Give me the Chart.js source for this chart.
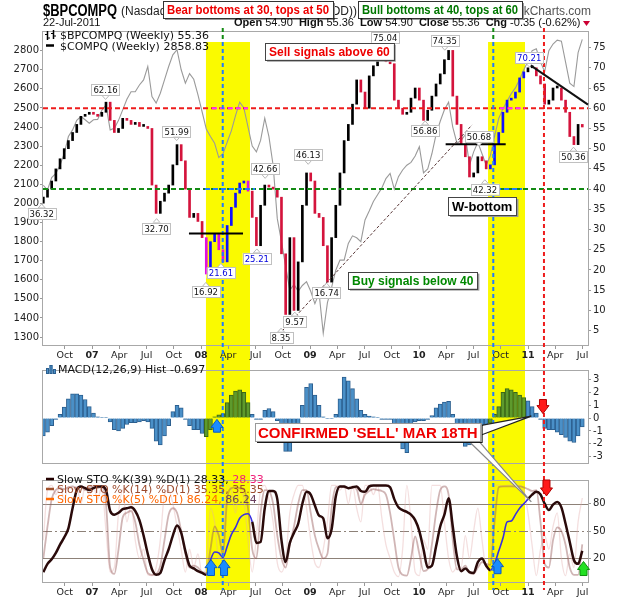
<!DOCTYPE html>
<html lang="en">
<head>
<meta charset="UTF-8">
<title>$BPCOMPQ Weekly</title>
<script src="https://cdn.jsdelivr.net/npm/chart.js"></script>
<style>
  body { margin: 0; background: #fff; }
  #wrap { position: relative; width: 620px; height: 600px; }
  #wrap canvas { position: absolute; left: 0; }
</style>
</head>
<body>
<div id="wrap">
  <canvas id="mainChart" width="620" height="362" style="top:0"></canvas>
  <canvas id="macdChart" width="620" height="110" style="top:362px"></canvas>
  <canvas id="stoChart" width="620" height="128" style="top:472px"></canvas>
  <canvas id="overlay" width="620" height="600" style="top:0"></canvas>
</div>
<script>
// two-week samples starting 21-Jul-2006, x is in decimal years
const T0 = 2006.553;
const STEP = 14 / 365.25;
const X_MIN = 2006.55, X_MAX = 2011.55;

const X_TICKS = [2006.75, 2007, 2007.25, 2007.5, 2007.75, 2008, 2008.25, 2008.5, 2008.75, 2009,
                 2009.25, 2009.5, 2009.75, 2010, 2010.25, 2010.5, 2010.75, 2011, 2011.25, 2011.5];
const X_TICK_LABELS = ['Oct', '07', 'Apr', 'Jul', 'Oct', '08', 'Apr', 'Jul', 'Oct', '09',
                       'Apr', 'Jul', 'Oct', '10', 'Apr', 'Jul', 'Oct', '11', 'Apr', 'Jul'];
const LEFT_TICKS = [1300, 1400, 1500, 1600, 1700, 1800, 1900, 2000, 2100, 2200, 2300, 2400, 2500, 2600, 2700, 2800];
const RIGHT_TICKS = [5, 10, 15, 20, 25, 30, 35, 40, 45, 50, 55, 60, 65, 70, 75];
const MACD_TICKS = [-3, -2, -1, 0, 1, 2, 3];
const STO_TICKS = [20, 50, 80];

// $BPCOMPQ bullish percent, close of each sample
const BP_OPEN = 36.5;
const BP_CLOSE = [
  38, 40, 42, 45, 47.5, 50, 52, 54, 56, 58,
  58.5, 59, 58.5, 58, 59, 61.5, 57, 54, 55, 57.5,
  57, 56, 56.5, 55.5, 55.5, 55, 41, 34, 37, 39,
  41, 46, 51, 47, 40, 33, 34, 32, 28, 19,
  27, 29, 25, 22, 31, 35.5, 39, 41.5, 42, 39.5,
  33, 26, 36, 41, 40.5, 40, 38, 24, 9, 28,
  10, 22, 36, 44, 42, 34, 33, 26, 17, 28,
  36, 44, 52, 56, 61, 67, 64, 60, 68, 70.5,
  72.5, 73.5, 71.5, 71, 62, 60, 58.5, 59, 62.5, 65,
  62, 57, 59.5, 63, 66, 68.5, 72, 74.3, 63, 56,
  51, 48, 43, 44, 48, 47, 45, 46, 51, 54,
  59, 62, 62.5, 64, 67.5, 69, 70, 70, 68, 66,
  61, 62, 65, 65, 62, 59, 53, 51, 56, 55.36
];

// $COMPQ close
const COMPQ_CLOSE = [
  2095, 2070, 2135, 2157, 2200, 2262, 2350, 2385, 2435, 2455,
  2438, 2420, 2438, 2440, 2488, 2515, 2385, 2393, 2435, 2490,
  2545, 2585, 2585, 2620, 2647, 2717, 2560, 2525, 2577, 2647,
  2717, 2778, 2805, 2700, 2630, 2680, 2650, 2570, 2480, 2390,
  2350, 2315, 2240, 2260, 2320, 2380, 2460, 2530, 2500, 2400,
  2300, 2270, 2330, 2446, 2350, 2200, 1920, 1800, 1670, 1545,
  1575, 1540, 1570, 1590, 1540, 1475, 1530, 1320, 1480, 1560,
  1650, 1703, 1703, 1790, 1830, 1820, 1800, 1913, 1960, 2010,
  2045, 2080, 2130, 2157, 2075, 2140, 2175, 2200, 2215, 2248,
  2297, 2160, 2180, 2260, 2360, 2430, 2490, 2530, 2400, 2315,
  2330, 2360, 2200, 2270, 2320, 2260, 2200, 2250, 2350, 2445,
  2495, 2535, 2575, 2605, 2650, 2700, 2745, 2800, 2810, 2740,
  2690, 2800, 2835, 2855, 2850, 2740, 2630, 2612, 2790, 2858.83
];

// MACD(12,26,9) histogram
const MACD_HIST = [
  -1.4, -1.1, -0.6, -0.1, 0.3, 0.85, 1.5, 1.9, 1.9, 1.8,
  1.45, 0.9, 0.4, 0.1, 0.05, 0.05, -0.3, -0.9, -1.0, -0.8,
  -0.5, -0.35, -0.35, -0.3, -0.2, -0.3, -0.8, -1.8, -2.1, -1.4,
  -0.6, 0.5, 1.0, 0.8, -0.1, -0.6, -0.9, -0.9, -1.2, -1.45,
  -0.9, 0.1, 0.25, 0.35, 1.2, 1.8, 2.1, 2.2, 2.0, 1.2,
  0.3, -0.1, -0.1, 0.6, 0.75, 0.5, -0.2, -1.2, -2.6, -2.6,
  -1.6, -0.5, 1.0, 2.4, 2.7, 1.8, 1.0, 0.1, -0.05, -0.05,
  0.3, 1.5, 3.2, 2.9, 2.3, 1.5, 0.6, 0.3, 0.15, 0.1,
  0.05, -0.1, -0.1, -0.1, -0.5, -1.8, -2.4, -2.7, -1.3, -0.3,
  -0.2, -0.2, -0.1, 0.2, 0.8, 1.1, 1.25, 1.3, 0.3, -0.7,
  -1.6, -2.2, -2.1, -1.4, -1.2, -0.8, -0.5, -0.4, 0.3, 0.9,
  2.0, 2.3, 2.2, 2.0, 1.8, 1.6, 1.35, 0.9, 0.4, -0.1,
  -0.8, -0.9, -0.9, -1.1, -1.3, -1.5, -1.8, -1.9, -1.4, -0.697
];

// slow stochastics
const STO_K39 = [
  5, 14, 19, 26, 35, 43, 53, 75, 95, 99,
  97, 95, 97, 99, 99, 95, 72, 68, 70, 74,
  75, 76, 72, 62, 45, 25, 8, 2, 4, 18,
  30, 45, 56, 48, 28, 12, 9, 6, 4, 2,
  18, 27, 26, 21, 33, 46, 54, 64, 68, 69,
  60, 37, 38, 75, 94, 94, 85, 40, 16, 37,
  48, 58, 80, 93, 90, 78, 67, 64, 42, 52,
  88, 99, 99, 97, 98, 99, 94, 93, 99, 100,
  100, 100, 100, 98, 85, 76, 73, 71, 68, 62,
  50, 30, 10, 12, 33, 55, 68, 86, 55, 22,
  6, 9, 5, 4, 16, 20, 12, 7, 14, 28,
  42, 60, 61, 68, 75, 80, 85, 90, 93, 90,
  80, 73, 79, 82, 76, 58, 38, 18, 14, 28.33
];
const STO_K14 = [
  20, 55, 85, 95, 97, 96, 98, 99, 97, 99,
  95, 98, 99, 97, 99, 80, 10, 3, 30, 65,
  70, 72, 60, 35, 18, 4, 2, 3, 12, 40,
  68, 75, 70, 50, 25, 10, 12, 10, 5, 4,
  30, 55, 45, 25, 85, 97, 98, 97, 96, 75,
  30, 20, 70, 95, 94, 80, 45, 20, 10, 35,
  55, 80, 95, 95, 70, 45, 30, 20, 25, 75,
  98, 99, 98, 97, 98, 96, 80, 90, 94, 96,
  95, 94, 90, 70, 40, 10, 2, 1, 20, 44,
  25, 6, 8, 35, 70, 95, 99, 90, 40, 8,
  8, 12, 4, 3, 10, 16, 14, 13, 60, 98,
  99, 99, 99, 99, 99, 98, 96, 94, 95, 60,
  14, 10, 40, 54, 50, 35, 10, 2, 2, 35.35
];
const STO_K5 = [
  40, 95, 100, 90, 99, 85, 99, 95, 99, 80,
  99, 90, 99, 85, 99, 50, 5, 10, 70, 95,
  60, 80, 40, 20, 30, 2, 1, 10, 40, 90,
  95, 80, 55, 30, 5, 30, 10, 25, 3, 10,
  75, 60, 20, 40, 100, 95, 70, 100, 85, 40,
  5, 45, 95, 100, 85, 60, 15, 5, 20, 70,
  90, 100, 100, 75, 40, 15, 10, 30, 60, 100,
  100, 95, 100, 80, 100, 75, 60, 100, 100, 90,
  100, 65, 35, 20, 5, 0, 30, 100, 60, 5,
  1, 40, 30, 100, 100, 100, 60, 20, 5, 10,
  10, 45, 20, 50, 75, 40, 10, 30, 100, 100,
  99, 100, 100, 98, 100, 95, 70, 34, 1, 30,
  45, 30, 55, 70, 20, 1, 25, 10, 60, 86.24
];

// annotations (decimal year, value)
const ZONES = [[2008.045, 2008.449], [2010.633, 2010.972]];
const BUY_LINES = [2008.199, 2010.681];
const SELL_LINE = 2011.146;
const NECKLINES = [[2007.889, 2008.385, 29], [2010.244, 2010.795, 51.1]];
const DOWNTREND = [[2010.99, 71.2], [2011.55, 60.9]];
const COMPQ_TREND = [[2008.743, 1331], [2010.486, 2411]];
const MAGENTA_SEGMENTS = [[2008.10, 2008.43], [2010.74, 2010.97]];
const BLUE_SEGMENTS = [[2008.036, 2008.495], [2010.633, 2010.945]];
// [year, value shown, side, value the pointer touches (if not the shown one)]
const PEAK_LABELS = [
  [2006.538, 36.32, 'below'], [2007.124, 62.16, 'above'], [2007.592, 32.70, 'below'],
  [2007.776, 51.99, 'above'], [2008.044, 16.92, 'below'], [2008.182, 21.61, 'below'],
  [2008.512, 25.21, 'below'], [2008.588, 42.66, 'above'], [2008.734, 8.35, 'below', 5.6],
  [2008.860, 9.57, 'below'], [2008.983, 46.13, 'above'], [2009.152, 16.74, 'below'],
  [2009.689, 75.04, 'above'], [2010.056, 56.86, 'below'], [2010.236, 74.35, 'above'],
  [2010.550, 50.68, 'above'], [2010.604, 42.32, 'below'], [2011.011, 70.21, 'above'],
  [2011.417, 50.36, 'below']
];
const BLUE_LABELS = [21.61, 25.21, 70.21];
const NOTES = [
  { text: 'Sell signals above 60', x: 2008.587, y: 76.2, color: '#ee0000', size: 12 },
  { text: 'W-bottom', x: 2010.266, y: 38.05, color: '#000000', size: 13 },
  { text: 'Buy signals below 40', x: 2009.348, y: 19.6, color: '#008800', size: 12 }
];
const ARROWS = [
  ['macd', 2008.146, -0.1, -1.1, 'blue'],
  ['macd', 2011.137, 0.35, 1.45, 'red'],
  ['sto', 2008.091, 18.6, 1.2, 'blue'],
  ['sto', 2008.211, 18.6, 1.2, 'blue'],
  ['sto', 2010.72, 19.7, 3.2, 'blue'],
  ['sto', 2011.169, 88.5, 106, 'red'],
  ['sto', 2011.509, 16.6, 1.2, 'green']
];

const MACD_TOP = 362, STO_TOP = 472;
const ZONE_TOP = 42, ZONE_BOTTOM = 590;
const AXIS_FONT = '"DejaVu Sans", sans-serif';
const HEAD_FONT = '"Liberation Sans", Arial, sans-serif';
const YELLOW = '#fafa00';

const xs = BP_CLOSE.map((_, i) => T0 + i * STEP);
const inZone = x => ZONES.some(([a, b]) => x >= a && x <= b);
const tickLabel = v => { const i = X_TICKS.indexOf(v); return i < 0 ? '' : X_TICK_LABELS[i]; };

function bpColor(p) {
  if (!p) return '#000';
  const up = p.y[1] >= p.y[0], z = inZone(p.x);
  if (up) return z ? '#1010ff' : '#000000';
  return z ? '#e010e0' : '#d4143c';
}

function xAxis(show, height) {
  return {
    type: 'linear', min: X_MIN, max: X_MAX, display: show, offset: false,
    afterBuildTicks: s => { s.ticks = X_TICKS.map(v => ({ value: v })); },
    afterFit: s => { s.height = height; },
    grid: { drawOnChartArea: false, tickLength: 3, color: '#999', offset: false },
    border: { display: false },
    ticks: {
      autoSkip: false, maxRotation: 0, padding: 1, color: '#222',
      font: ctx => ({ family: AXIS_FONT, size: 9.5,
        weight: ctx.tick && /^\d/.test(tickLabel(ctx.tick.value)) ? 'bold' : 'normal' }),
      callback: v => tickLabel(v)
    }
  };
}

function yAxis(pos, min, max, ticks, width) {
  return {
    type: 'linear', position: pos, min: min, max: max,
    afterBuildTicks: s => { s.ticks = ticks.map(v => ({ value: v })); },
    afterFit: s => { s.width = width; },
    grid: { drawOnChartArea: false, tickLength: 3, color: '#999' }, border: { display: false },
    ticks: { padding: pos === 'left' ? 1 : 2, color: '#222', font: { family: AXIS_FONT, size: 10 },
             callback: v => String(v) }
  };
}

const panelPlugin = {
  id: 'panel',
  beforeDraw(chart, args, o) {
    const g = chart.ctx, x = chart.scales.x;
    g.save();
    g.fillStyle = '#fff';
    g.fillRect(0, 0, chart.width, chart.height);
    g.fillStyle = YELLOW;
    ZONES.forEach(([a, b]) => {
      const x0 = x.getPixelForValue(a), x1 = x.getPixelForValue(b);
      const y0 = Math.max(0, ZONE_TOP - o.top), y1 = Math.min(chart.height, ZONE_BOTTOM - o.top);
      g.fillRect(x0, y0, x1 - x0, y1 - y0);
    });
    g.restore();
  },
  beforeDatasetsDraw(chart, args, o) {
    if (!o.sto) return;
    const g = chart.ctx, y = chart.scales.y, a = chart.chartArea;
    g.save();
    g.strokeStyle = '#8d8178';
    g.lineWidth = 1.2;
    STO_TICKS.forEach(v => {
      const py = Math.round(y.getPixelForValue(v)) + 0.5;
      g.setLineDash(v === 50 ? [9, 3, 2, 3] : []);
      g.beginPath(); g.moveTo(a.left, py); g.lineTo(a.right, py); g.stroke();
    });
    g.restore();
  },
  afterDraw(chart) {
    const a = chart.chartArea, g = chart.ctx;
    g.save();
    g.strokeStyle = '#a8a8a8';
    g.lineWidth = 1;
    g.strokeRect(Math.round(a.left) - 0.5, Math.round(a.top) + 0.5,
                 Math.round(a.right - a.left) + 1, Math.round(a.bottom - a.top) - 1);
    g.restore();
  }
};

const common = {
  responsive: false, animation: false, events: [],
  plugins: { legend: { display: false }, tooltip: { enabled: false } }
};

const mainChart = new Chart(document.getElementById('mainChart'), {
  type: 'bar',
  data: {
    datasets: [
      {
        type: 'bar', yAxisID: 'yR', order: 0,
        data: BP_CLOSE.map((c, i) => ({ x: xs[i], y: [i ? BP_CLOSE[i - 1] : BP_OPEN, c] })),
        backgroundColor: ctx => bpColor(ctx.raw),
        barThickness: 2, minBarLength: 2, grouped: false
      },
      {
        type: 'line', yAxisID: 'yL', order: 1,
        data: COMPQ_CLOSE.map((v, i) => ({ x: xs[i], y: v })),
        borderColor: '#9a9a9a', borderWidth: 1.1, pointRadius: 0, tension: 0
      }
    ]
  },
  options: {
    ...common,
    layout: { padding: { top: 31 } },
    plugins: { ...common.plugins, panel: { top: 0 } },
    scales: {
      x: xAxis(true, 16),
      yL: yAxis('left', 1253, 2903, LEFT_TICKS, 43),
      yR: yAxis('right', 1.2, 79.1, RIGHT_TICKS, 32)
    }
  },
  plugins: [panelPlugin]
});

const macdChart = new Chart(document.getElementById('macdChart'), {
  type: 'bar',
  data: {
    datasets: [{
      data: MACD_HIST.map((v, i) => ({ x: xs[i], y: v })),
      backgroundColor: ctx => inZone(ctx.raw ? ctx.raw.x : 0) ? '#5e9a2c' : '#4a90c8',
      borderColor: ctx => inZone(ctx.raw ? ctx.raw.x : 0) ? '#3b6617' : '#2c5f8f',
      borderWidth: 1, barThickness: 4, grouped: false
    }]
  },
  options: {
    ...common,
    layout: { padding: { left: 43 } },
    plugins: { ...common.plugins, panel: { top: MACD_TOP } },
    scales: {
      x: xAxis(false, 0),
      y: yAxis('right', -3.58, 3.75, MACD_TICKS, 32)
    }
  },
  plugins: [panelPlugin]
});

const stoLine = (arr, color, width, order) => ({
  data: arr.map((v, i) => ({ x: xs[i], y: v })),
  borderColor: color, borderWidth: width, pointRadius: 0,
  cubicInterpolationMode: 'monotone', order: order
});
const k39 = stoLine(STO_K39, '#2a0a0a', 2.5, 0);
k39.segment = {
  borderColor: ctx => inZone(ctx.p0.parsed.x) ? '#3a30e0' : '#2a0a0a',
  borderWidth: ctx => inZone(ctx.p0.parsed.x) ? 1.6 : 2.5
};

const stoChart = new Chart(document.getElementById('stoChart'), {
  type: 'line',
  data: {
    datasets: [
      stoLine(STO_K5, 'rgba(225,170,170,0.38)', 1.3, 2),
      stoLine(STO_K14, 'rgba(150,90,90,0.45)', 1.8, 1),
      k39
    ]
  },
  options: {
    ...common,
    layout: { padding: { top: 1, left: 43 } },
    plugins: { ...common.plugins, panel: { top: STO_TOP, sto: true } },
    scales: {
      x: xAxis(true, 17),
      y: yAxis('right', -7, 106, STO_TICKS, 32)
    }
  },
  plugins: [panelPlugin]
});

function drawOverlay() {
  const cv = document.getElementById('overlay');
  const dpr = window.devicePixelRatio || 1;
  cv.width = 620 * dpr; cv.height = 600 * dpr;
  cv.style.width = '620px'; cv.style.height = '600px';
  const g = cv.getContext('2d');
  g.scale(dpr, dpr);

  const X = v => mainChart.scales.x.getPixelForValue(v);
  const YR = v => mainChart.scales.yR.getPixelForValue(v);
  const YL = v => mainChart.scales.yL.getPixelForValue(v);
  const YM = v => MACD_TOP + macdChart.scales.y.getPixelForValue(v);
  const YS = v => STO_TOP + stoChart.scales.y.getPixelForValue(v);
  const A = mainChart.chartArea;

  const line = (pts, color, width, dash) => {
    g.save();
    g.strokeStyle = color; g.lineWidth = width; g.setLineDash(dash || []);
    g.beginPath();
    pts.forEach(([x, y], i) => i ? g.lineTo(x, y) : g.moveTo(x, y));
    g.stroke();
    g.restore();
  };
  const text = (s, x, y, font, color, align, maxW) => {
    g.font = font; g.fillStyle = color; g.textAlign = align || 'left'; g.textBaseline = 'alphabetic';
    if (maxW) g.fillText(s, x, y, maxW); else g.fillText(s, x, y);
  };
  const box = (x, y, w, h, border, shadow) => {
    if (shadow) { g.fillStyle = shadow; g.fillRect(x + 2, y + 2, w, h); }
    g.fillStyle = '#fff'; g.fillRect(x, y, w, h);
    g.strokeStyle = border; g.lineWidth = 1;
    g.strokeRect(Math.round(x) + 0.5, Math.round(y) + 0.5, Math.round(w), Math.round(h));
  };

  // reference levels 60 / 40
  line([[A.left, YR(60)], [A.right, YR(60)]], '#ee1c1c', 2, [5, 3]);
  line([[A.left, YR(40)], [A.right, YR(40)]], '#138a13', 2, [5, 3]);
  MAGENTA_SEGMENTS.forEach(([a, b]) => line([[X(a), YR(60)], [X(b), YR(60)]], '#ff33ff', 2, [5, 3]));
  BLUE_SEGMENTS.forEach(([a, b]) => line([[X(a), YR(40)], [X(b), YR(40)]], '#1f7bff', 2, [5, 3]));

  // signal verticals
  BUY_LINES.forEach(v => {
    line([[X(v), 28], [X(v), ZONE_TOP]], '#138a13', 2, [4, 3]);
    line([[X(v), ZONE_TOP], [X(v), ZONE_BOTTOM]], '#1f7bff', 2, [4, 3]);
  });
  line([[X(SELL_LINE), 28], [X(SELL_LINE), ZONE_BOTTOM]], '#ee1c1c', 2, [4, 3]);

  // trend lines
  NECKLINES.forEach(([a, b, v]) => line([[X(a), YR(v)], [X(b), YR(v)]], '#000', 2));
  line(DOWNTREND.map(([x, v]) => [X(x), YR(v)]), '#111', 2);
  line(COMPQ_TREND.map(([x, v]) => [X(x), YL(v)]), '#553333', 1, [3, 2]);

  // peak / trough value labels
  const pf = '8.5px ' + AXIS_FONT;
  PEAK_LABELS.forEach(([x, v, side, at]) => {
    const s = v.toFixed(2);
    g.font = pf;
    const w = g.measureText(s).width + 4, h = 11;
    const cx = X(x), py = YR(at === undefined ? v : at);
    const top = side === 'above' ? py - 4 - h : py + 4;
    const edge = side === 'above' ? top + h : top;
    g.fillStyle = '#fff'; g.strokeStyle = '#b8b8b8'; g.lineWidth = 1;
    g.beginPath(); g.moveTo(cx - 3.5, edge); g.lineTo(cx, py); g.lineTo(cx + 3.5, edge); g.closePath();
    g.fill(); g.stroke();
    box(cx - w / 2, top, w, h, '#c0c0c0');
    text(s, cx, top + 9, pf, BLUE_LABELS.includes(v) ? '#0000dd' : '#111', 'center');
  });

  // text notes in the price panel
  NOTES.forEach(n => {
    const f = 'bold ' + n.size + 'px ' + HEAD_FONT;
    g.font = f;
    const w = g.measureText(n.text).width + 8, h = n.size + 5;
    const x = X(n.x), y = YR(n.y);
    box(x, y, w, h, '#444', '#999');
    text(n.text, x + w / 2, y + h - 4, f, n.color, 'center');
  });

  // arrows
  const palette = { blue: ['#1a8cff', '#0a5cc0'], red: ['#ff1a1a', '#b00000'], green: ['#22e022', '#109010'] };
  ARROWS.forEach(([panel, x, tip, base, c]) => {
    const Y = panel === 'macd' ? YM : YS;
    const cx = X(x), ty = Y(tip), by = Y(base), d = Math.sign(by - ty);
    const hh = 6, sw = 3.5, hl = 8;
    g.fillStyle = palette[c][0]; g.strokeStyle = palette[c][1]; g.lineWidth = 1;
    g.beginPath();
    g.moveTo(cx, ty);
    g.lineTo(cx + hh, ty + d * hl); g.lineTo(cx + sw, ty + d * hl); g.lineTo(cx + sw, by);
    g.lineTo(cx - sw, by); g.lineTo(cx - sw, ty + d * hl); g.lineTo(cx - hh, ty + d * hl);
    g.closePath(); g.fill(); g.stroke();
  });

  // confirmed sell callout
  const cf = 'bold 15px ' + HEAD_FONT, cs = "CONFIRMED 'SELL' MAR 18TH";
  g.font = cf;
  const cw = g.measureText(cs).width + 6, ch = 18;
  const cx0 = X(2008.495), cy0 = YM(-0.38), cr = cx0 + cw, cb = cy0 + ch;
  g.fillStyle = '#fff'; g.strokeStyle = '#888'; g.lineWidth = 1.2;
  g.beginPath(); g.moveTo(cr - 12, cb); g.lineTo(X(2011.03), YS(82)); g.lineTo(cr - 2, cb); g.closePath();
  g.fill(); g.stroke();
  g.strokeStyle = '#222';
  g.beginPath(); g.moveTo(cr - 2, cy0 + 3); g.lineTo(X(2011.03), YM(0.15)); g.lineTo(cr - 2, cy0 + 13); g.closePath();
  g.fill(); g.stroke();
  box(cx0, cy0, cw, ch, '#999', '#111');
  text(cs, cx0 + cw / 2, cb - 3, cf, '#ee0000', 'center');

  // panel legends
  const lf = '11px ' + AXIS_FONT;
  line([[47.5, 31], [47.5, 40]], '#000', 1.5); line([[45, 34.5], [47.5, 34.5]], '#000', 1); line([[47.5, 38], [50, 38]], '#000', 1);
  line([[53.5, 30], [53.5, 39]], '#000', 1.5); line([[51, 33.5], [53.5, 33.5]], '#000', 1); line([[53.5, 36], [56, 36]], '#000', 1);
  text('$BPCOMPQ (Weekly) 55.36', 60, 39, lf, '#111');
  line([[46, 45.5], [54, 45.5]], '#000', 2.5);
  text('$COMPQ (Weekly) 2858.83', 60, 49.5, lf, '#111');

  [[46, 6], [49.5, 9], [53, 5]].forEach(([x, h]) => {
    g.fillStyle = '#4a90c8'; g.fillRect(x, MACD_TOP + 12 - h, 3, h);
    g.strokeStyle = '#2c5f8f'; g.lineWidth = 1; g.strokeRect(x + 0.5, MACD_TOP + 12.5 - h, 2, h - 1);
  });
  text('MACD(12,26,9) Hist -0.697', 58, MACD_TOP + 11, lf, '#111');

  const legendRow = (y, icon, parts) => {
    line([[46, y - 4], [54, y - 4]], icon, 2.5);
    let x = 57;
    parts.forEach(([s, c]) => { text(s, x, y, lf, c); x += g.measureText(s).width; });
  };
  legendRow(STO_TOP + 11, '#220000', [['Slow STO %K(39) %D(1) 28.33, ', '#111'], ['28.33', '#f0207a']]);
  legendRow(STO_TOP + 21, '#a0522d', [['Slow STO %K(14) %D(1) 35.35, 35.35', '#9b4a2c']]);
  legendRow(STO_TOP + 31, '#ff6a00', [['Slow STO %K(5) %D(1) 86.24, ', '#ff6600'], ['86.24', '#6b4060']]);

  // header
  text('$BPCOMPQ', 43, 16, 'bold 16px ' + HEAD_FONT, '#000', 'left', 74);
  text('(Nasdaq', 121, 15, '12px ' + HEAD_FONT, '#222');
  text('OD))', 357, 15, '12px ' + HEAD_FONT, '#222', 'right');
  text('\u00a9 StockCharts.com', 591, 15, '12px ' + HEAD_FONT, '#555', 'right');
  const hb = 'bold 12px ' + HEAD_FONT;
  box(163, 1, 170, 17, '#333', '#999');
  text('Bear bottoms at 30, tops at 50', 248, 14, hb, '#ee0000', 'center', 162);
  box(358, 1, 164, 17, '#333', '#999');
  text('Bull bottoms at 40, tops at 60', 440, 14, hb, '#007700', 'center', 156);

  text('22-Jul-2011', 43, 26, '11px ' + HEAD_FONT, '#111');
  const quote = [['Open ', 1], ['54.90  ', 0], ['High ', 1], ['55.36  ', 0], ['Low ', 1], ['54.90  ', 0],
                 ['Close ', 1], ['55.36  ', 0], ['Chg ', 1], ['-0.35 (-0.62%)', 0]];
  let size = 12, qw = 0;
  const qf = b => (b ? 'bold ' : '') + size + 'px ' + HEAD_FONT;
  quote.forEach(([s, b]) => { g.font = qf(b); qw += g.measureText(s).width; });
  size = 12 * 347 / qw;
  let qx = 234;
  quote.forEach(([s, b]) => { text(s, qx, 26, qf(b), '#111'); qx += g.measureText(s).width; });
  g.fillStyle = '#cc0033';
  g.beginPath(); g.moveTo(583, 21); g.lineTo(590, 21); g.lineTo(586.5, 26); g.closePath(); g.fill();
}

drawOverlay();
</script>
</body>
</html>
